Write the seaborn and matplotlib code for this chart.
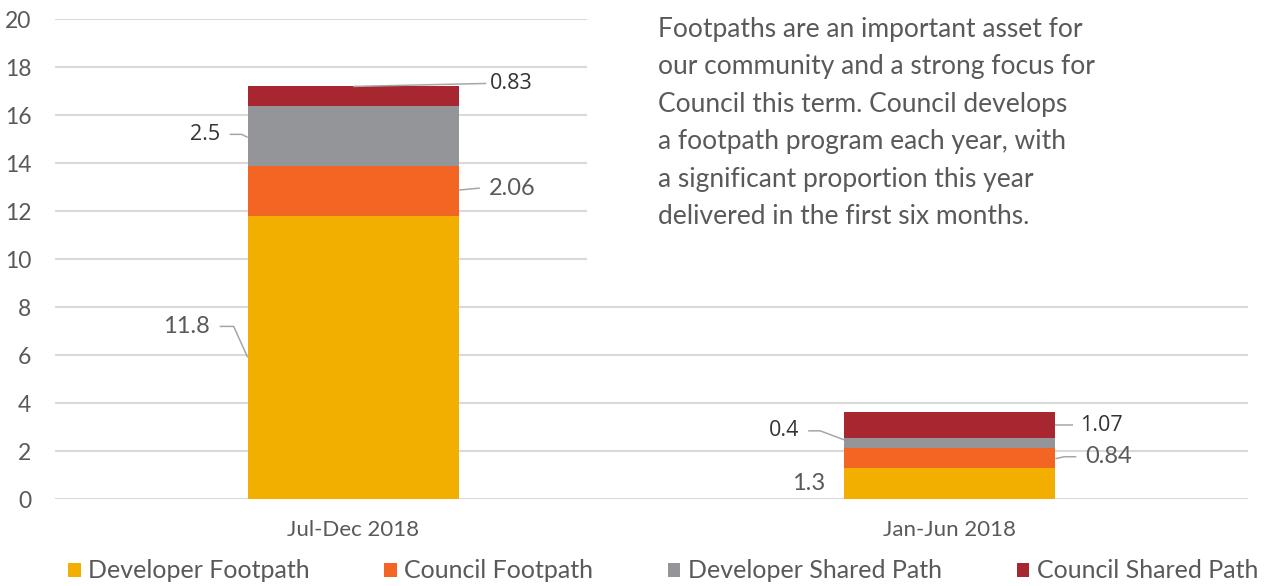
import pandas as pd
import seaborn as sns
import matplotlib.pyplot as plt
from matplotlib.patches import Rectangle, Patch

periods = ["Jul-Dec 2018", "Jan-Jun 2018"]
series = ["Developer Footpath", "Council Footpath", "Developer Shared Path", "Council Shared Path"]
developer_footpath = [11.8, 1.3]
council_footpath = [2.06, 0.84]
developer_shared = [2.5, 0.4]
council_shared = [0.83, 1.07]
colors = ["#F2AF00", "#F26522", "#939598", "#A8262F"]
note = ("Footpaths are an important asset for\n"
        "our community and a strong focus for\n"
        "Council this term. Council develops\n"
        "a footpath program each year, with\n"
        "a significant proportion this year\n"
        "delivered in the first six months.")

values = [developer_footpath, council_footpath, developer_shared, council_shared]
df = pd.DataFrame({"period": periods})
for name, vals in zip(series, values):
    df[name] = vals

sns.set_theme(style="white")
plt.rcParams["font.family"] = ["Lato", "DejaVu Sans"]
text_col = "#595959"

fig = plt.figure(figsize=(12.64, 5.86), dpi=100)
ax = fig.add_axes([55 / 1264, 1 - 499 / 586, 1193 / 1264, 480 / 586])

bw = 0.354
bottom = [0.0, 0.0]
for name, c in zip(series, colors):
    sns.barplot(data=df, x="period", y=name, bottom=bottom, color=c,
                width=bw, saturation=1, linewidth=0, ax=ax, zorder=2)
    bottom = [b + v for b, v in zip(bottom, df[name])]

ax.set_ylim(0, 20)
ax.set_xlim(-0.5, 1.5)
ax.set_yticks(range(0, 21, 2))
ax.grid(axis="y", color="#D9D9D9", lw=1.5, zorder=0)
ax.set_axisbelow(True)
sns.despine(ax=ax, left=True, bottom=True)
ax.set_xlabel("")
ax.set_ylabel("")
ax.tick_params(axis="y", length=0, pad=17, labelsize=16.5, labelcolor=text_col)
ax.tick_params(axis="x", length=0, pad=15, labelsize=16, labelcolor=text_col)

# white panel behind the note, hides upper gridlines
ax.add_patch(Rectangle((587 / 1264, 1 - 285 / 586), 1, 280 / 586,
                       transform=fig.transFigure, facecolor="white",
                       edgecolor="none", zorder=1))
fig.text(658 / 1264, 1 - 17 / 586, note, ha="left", va="top", fontsize=19,
         color=text_col, linespacing=1.62)

# value labels with leader lines (pixel offsets -> data units)
px_x = 2 / 1193
px_y = 20 / 480
lead_col = "#A6A6A6"
# (period index, series index): side, leader path in px relative to anchor, text gap, dark
layout = {
    (0, 3): ("top", [(0, 0), (133, 3)], 4, True),
    (0, 2): ("left", [(0, -1), (-6, 2), (-18, 2)], 10, True),
    (0, 1): ("right", [(0, 1), (21, 3)], 9, False),
    (0, 0): ("left", [(0, 0), (-14, 31), (-28, 31)], 10, False),
    (1, 2): ("left", [(0, 3), (-24, 12), (-36, 12)], 9, True),
    (1, 3): ("right", [(0, 0), (18, 0)], 7, True),
    (1, 1): ("right", [(0, -1), (9, 1), (21, 1)], 9, False),
    (1, 0): ("left", [(0, 0)], 19, False),
}
for (i, s), (side, path, gap, dark) in layout.items():
    v = values[s][i]
    base = sum(values[k][i] for k in range(s))
    if side == "top":
        ax_, ay_ = i, base + v
    elif side == "left":
        ax_, ay_ = i - bw / 2, base + v / 2
    else:
        ax_, ay_ = i + bw / 2, base + v / 2
    xs = [ax_ + dx * px_x for dx, dy in path]
    ys = [ay_ + dy * px_y for dx, dy in path]
    if len(path) > 1:
        ax.plot(xs, ys, color=lead_col, lw=1.1, zorder=3, solid_capstyle="butt")
    if side == "left":
        tx, ha = xs[-1] - gap * px_x, "right"
    else:
        tx, ha = xs[-1] + gap * px_x, "left"
    ax.text(tx, ys[-1], f"{v:g}", ha=ha, va="center",
            fontsize=15.5 if dark else 17,
            color="#333333" if dark else text_col,
            family=["Open Sans", "DejaVu Sans"] if dark else ["Lato", "DejaVu Sans"],
            zorder=4)

handles = [Patch(facecolor=c, edgecolor="none") for c in colors]
fig.legend(handles, series, loc="center left", ncol=4, frameon=False,
           bbox_to_anchor=(68 / 1264, 1 - 571 / 586, 1190 / 1264, 0), mode="expand",
           fontsize=18, labelcolor=text_col, handlelength=0.5, handleheight=0.5,
           handletextpad=0.3, borderaxespad=0, borderpad=0)

fig.savefig("out.png", dpi=100)
